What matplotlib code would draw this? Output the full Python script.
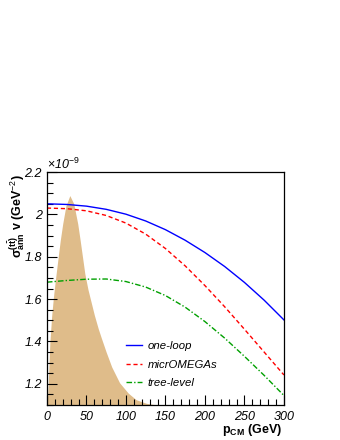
import numpy as np
import matplotlib
matplotlib.use('Agg')
import matplotlib.pyplot as plt
from matplotlib.ticker import MultipleLocator

plt.rcParams['font.family'] = ['Liberation Sans', 'DejaVu Sans']
plt.rcParams['mathtext.fontset'] = 'custom'
plt.rcParams['mathtext.rm'] = 'Liberation Sans'
plt.rcParams['mathtext.it'] = 'Liberation Sans:italic'
plt.rcParams['mathtext.bf'] = 'Liberation Sans:bold'

# cross sections (units of 1e-9 GeV^-2) vs p_CM (GeV)
p_curve = [0, 25, 50, 75, 100, 125, 150, 175, 200, 225, 250, 275, 300]
one_loop = [2.050, 2.047, 2.039, 2.024, 2.001, 1.969, 1.928, 1.878, 1.820, 1.754, 1.679, 1.595, 1.502]
micromegas = [2.030, 2.027, 2.017, 1.995, 1.959, 1.907, 1.839, 1.757, 1.664, 1.564, 1.458, 1.350, 1.242]
tree_level = [1.680, 1.688, 1.694, 1.695, 1.683, 1.657, 1.617, 1.562, 1.494, 1.416, 1.330, 1.240, 1.145]

# momentum distribution (arbitrary scale, drawn on the same axis)
p_dist = [0, 1, 1.7, 2.7, 3.8, 6, 8, 9.3, 12, 14.3, 17, 20, 24, 29, 34, 39, 42, 45, 48, 52, 55, 60, 65, 69, 75, 82, 92, 103, 113, 126, 140]
dist = [1.10, 1.15, 1.20, 1.30, 1.40, 1.52, 1.60, 1.645, 1.73, 1.80, 1.88, 1.956, 2.04, 2.089, 2.05, 1.956, 1.88, 1.80, 1.72, 1.645, 1.60, 1.525, 1.46, 1.415, 1.35, 1.28, 1.205, 1.156, 1.125, 1.108, 1.10]

fig = plt.figure(figsize=(3.4, 4.4), dpi=100)
ax = fig.add_axes([0.138, 0.0795, 0.697, 0.5295])

ax.fill_between(p_dist, 1.0, dist, color='#dfbc8a', lw=0)
ax.plot(p_curve, one_loop, color='blue', lw=1.0, label='one-loop')
ax.plot(p_curve, micromegas, color='red', lw=1.0, ls=(0, (3, 2)), label='micrOMEGAs')
ax.plot(p_curve, tree_level, color='#00a000', lw=1.0, ls=(0, (4, 1.5, 1, 1.5)), label='tree-level')

ax.set_xlim(0, 300)
ax.set_ylim(1.1, 2.2)
ax.xaxis.set_major_locator(MultipleLocator(50))
ax.xaxis.set_minor_locator(MultipleLocator(10))
ax.yaxis.set_major_locator(MultipleLocator(0.2))
ax.yaxis.set_minor_locator(MultipleLocator(0.05))
ax.tick_params(which='both', direction='in', top=False, right=False, width=0.8)
ax.tick_params(which='major', length=7, labelsize=9)
ax.tick_params(which='minor', length=4)
ax.tick_params(axis='x', pad=4)
ax.set_xticks(ax.get_xticks())
ax.set_xticklabels([str(int(v)) for v in ax.get_xticks()], fontstyle='italic')
ax.set_yticks(ax.get_yticks())
ax.set_yticklabels(['%g' % round(v, 1) for v in ax.get_yticks()], fontstyle='italic')
ax.set_ylim(1.1, 2.2)
ax.set_xlim(0, 300)
for s in ax.spines.values():
    s.set_linewidth(0.9)

ax.text(0.0, 1.0, r'$\times$10$^{-9}$', transform=ax.transAxes, fontsize=9,
        fontstyle='italic', ha='left', va='bottom')

fig.text(0.048, 0.603, r'$\mathbf{\sigma^{(t\bar{t})}_{ann}}$ v (GeV$^{-2}$)', rotation=90,
         ha='center', va='top', fontsize=9, fontweight='bold')
fig.text(0.83, 0.004, r'$\mathbf{p_{CM}}$ (GeV)', ha='right', va='bottom',
         fontsize=9, fontweight='bold')

leg = ax.legend(loc='lower left', bbox_to_anchor=(0.292, 0.028), frameon=False,
                prop={'style': 'italic', 'size': 8.2}, handlelength=1.4,
                labelspacing=0.75, handletextpad=0.45)

fig.savefig('out.png', dpi=100)
